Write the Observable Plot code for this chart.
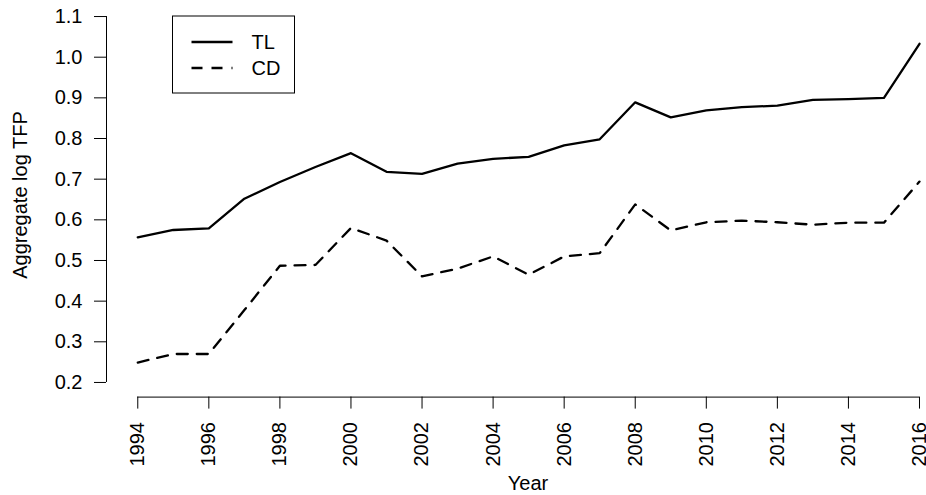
<!DOCTYPE html>
<html>
<head>
<meta charset="utf-8">
<script src="https://cdn.jsdelivr.net/npm/d3@7"></script>
<script src="https://cdn.jsdelivr.net/npm/@observablehq/plot@0.6"></script>
<style>
  html, body { margin: 0; padding: 0; background: #fff; }
  #chart { position: relative; width: 926px; height: 495px; overflow: hidden; }
  #chart svg { position: absolute; left: 0; top: 0; }
</style>
</head>
<body>
<div id="chart"></div>
<script>
const years = [1994, 1995, 1996, 1997, 1998, 1999, 2000, 2001, 2002, 2003, 2004, 2005,
               2006, 2007, 2008, 2009, 2010, 2011, 2012, 2013, 2014, 2015, 2016];
const tlValues = [0.557, 0.575, 0.579, 0.652, 0.693, 0.730, 0.764, 0.718, 0.713, 0.738, 0.750, 0.755,
                  0.783, 0.798, 0.889, 0.852, 0.869, 0.877, 0.881, 0.895, 0.897, 0.900, 1.033];
const cdValues = [0.249, 0.270, 0.270, 0.378, 0.487, 0.489, 0.580, 0.549, 0.461, 0.480, 0.510, 0.465,
                  0.510, 0.518, 0.638, 0.574, 0.594, 0.598, 0.594, 0.588, 0.593, 0.593, 0.694];
const seriesNames = ["TL", "CD"];
const yTicks = [0.2, 0.3, 0.4, 0.5, 0.6, 0.7, 0.8, 0.9, 1.0, 1.1];
const xTicks = [1994, 1996, 1998, 2000, 2002, 2004, 2006, 2008, 2010, 2012, 2014, 2016];
const xLabel = "Year";
const yLabel = "Aggregate log TFP";

const tl = years.map((y, i) => ({year: y, value: tlValues[i]}));
const cd = years.map((y, i) => ({year: y, value: cdValues[i]}));

// R-style padded domains (4% each side)
const xPad = (xTicks[xTicks.length - 1] - xTicks[0]) * 0.04;
const yPad = (yTicks[yTicks.length - 1] - yTicks[0]) * 0.04;
const xMin = xTicks[0] - xPad;
const xMax = xTicks[xTicks.length - 1] + 0.197;
const yMin = yTicks[0] - yPad;
const yMax = yTicks[yTicks.length - 1] + yPad;

const FONT = "'Liberation Sans', Arial, Helvetica, sans-serif";
const LW = 2.3;
const DASH = "11,9";

const chart = Plot.plot({
  width: 926,
  height: 495,
  marginLeft: 106,
  marginRight: 0,
  marginTop: 1.4,
  marginBottom: 98.4,
  x: {domain: [xMin, xMax]},
  y: {domain: [yMin, yMax]},
  style: {fontFamily: FONT, fontSize: "20px", color: "#000", background: "#fff", overflow: "visible"},
  marks: [
    Plot.axisY(yTicks, {tickSize: 12, tickPadding: 12, tickFormat: d3.format(".1f"), label: null, fontSize: 20, strokeWidth: 1}),
    Plot.axisX(xTicks, {tickSize: 12, tickPadding: 13, tickRotate: -90, tickFormat: d => String(d), label: null, fontSize: 20, strokeWidth: 1}),
    Plot.ruleX([xMin], {y1: yTicks[0], y2: yTicks[yTicks.length - 1], stroke: "#000", strokeWidth: 1}),
    Plot.ruleY([yMin], {x1: xTicks[0], x2: xTicks[xTicks.length - 1], stroke: "#000", strokeWidth: 1}),
    Plot.line(tl, {x: "year", y: "value", stroke: "#000", strokeWidth: LW, strokeLinejoin: "round"}),
    Plot.line(cd, {x: "year", y: "value", stroke: "#000", strokeWidth: LW, strokeDasharray: DASH, strokeLinejoin: "round"})
  ]
});

document.getElementById("chart").appendChild(chart);

// Axis titles
const svg = d3.select(chart);
svg.append("text")
  .attr("x", 528).attr("y", 490)
  .attr("text-anchor", "middle")
  .style("font-family", FONT).style("font-size", "20px").attr("fill", "#000")
  .text(xLabel);
svg.append("text")
  .attr("transform", "translate(26.5,195) rotate(-90)")
  .attr("text-anchor", "middle")
  .style("font-family", FONT).style("font-size", "20px").attr("fill", "#000")
  .text(yLabel);

// Legend box
const lg = svg.append("g");
lg.append("rect")
  .attr("x", 172.5).attr("y", 16).attr("width", 122).attr("height", 77)
  .attr("fill", "#fff").attr("stroke", "#000").attr("stroke-width", 1);
seriesNames.forEach((name, i) => {
  const yy = 42 + i * 26;
  lg.append("line")
    .attr("x1", 191.5).attr("x2", 232.5).attr("y1", yy).attr("y2", yy)
    .attr("stroke", "#000").attr("stroke-width", LW)
    .attr("stroke-dasharray", i === 1 ? DASH : null);
  lg.append("text")
    .attr("x", 251.5).attr("y", yy + 7)
    .attr("text-anchor", "start")
    .style("font-family", FONT).style("font-size", "20px").attr("fill", "#000")
    .text(name);
});
</script>
</body>
</html>
